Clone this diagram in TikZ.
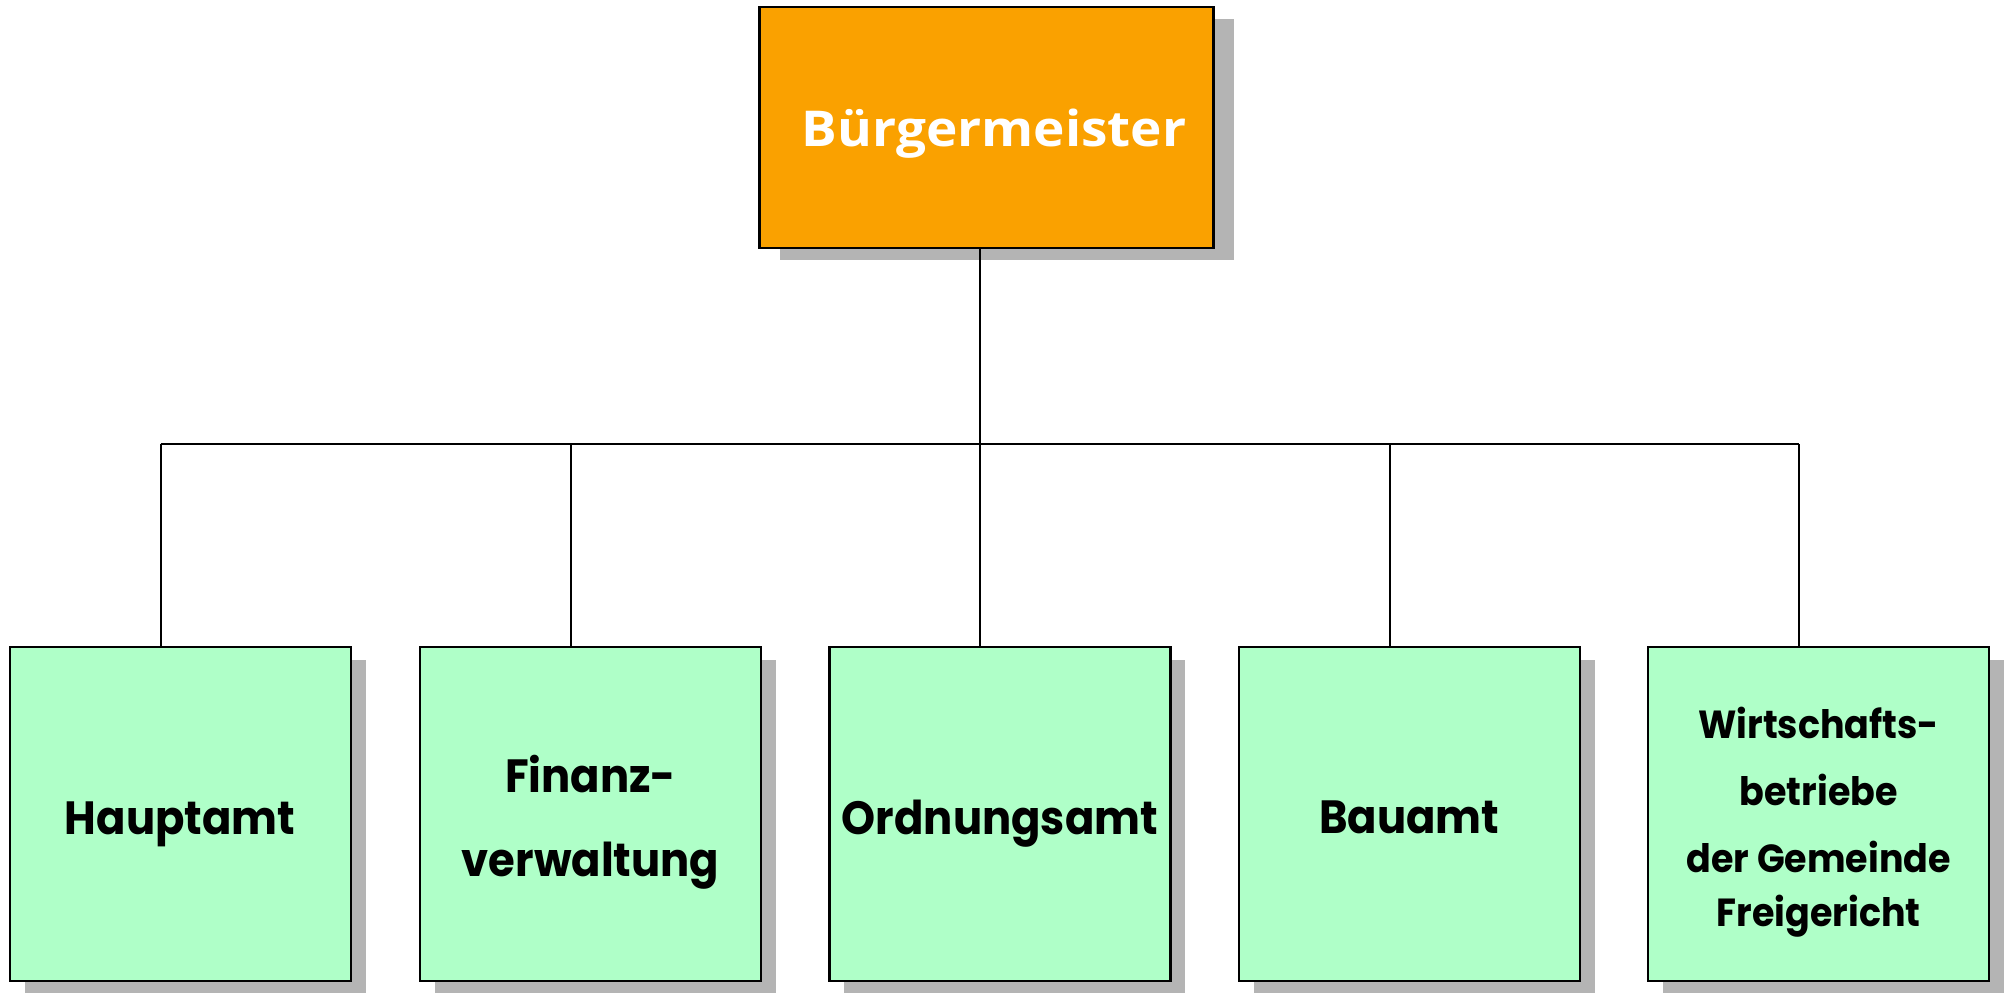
\documentclass[tikz,border=0pt]{standalone}
\usepackage{fontspec}
\newfontfamily\futfont{Poppins}[FakeStretch=0.93]
\newfontfamily\bossfont{Open Sans}[FakeStretch=1.075]
\usetikzlibrary{shadows}
\definecolor{bossorange}{RGB}{250,161,0}
\definecolor{deptgreen}{RGB}{175,255,200}
\definecolor{shadowgray}{RGB}{180,180,180}
\newcommand\mydeptfont{\futfont\bfseries\fontsize{23.3pt}{34pt}\selectfont\setlength{\lineskiplimit}{-100pt}\setlength{\lineskip}{0pt}}
\newcommand\mysmallfont{\futfont\bfseries\fontsize{19.6pt}{33.6pt}\selectfont\setlength{\lineskiplimit}{-100pt}\setlength{\lineskip}{0pt}}
\newcommand\topstrut[1]{\rule{0pt}{#1}}
\begin{document}
\begin{tikzpicture}[x=0.5pt,y=-0.5pt,
  bossbox/.style={draw=black,line width=1.1pt,fill=bossorange,inner sep=0pt,outer sep=0pt,
    minimum width=227pt,minimum height=120.5pt,text depth=0pt,
    drop shadow={shadow xshift=10pt,shadow yshift=-6.25pt,fill=shadowgray,opacity=1},
    text=white,font=\bossfont\bfseries\fontsize{24.7pt}{30pt}\selectfont},
  deptbox/.style={draw=black,line width=1.1pt,fill=deptgreen,inner sep=0pt,outer sep=0pt,
    minimum width=170.5pt,minimum height=167pt,align=center,text depth=0pt,
    drop shadow={shadow xshift=7.5pt,shadow yshift=-6.5pt,fill=shadowgray,opacity=1},
    font=\mydeptfont},
  smalltext/.style={font=\mysmallfont},
  conn/.style={draw=black,line width=1pt}]
\useasboundingbox (0,0) rectangle (2006,992);
\node[bossbox] (boss) at (986.5,127.2) {\hspace*{7.5pt}\topstrut{18.8pt}Bürgermeister};
\node[deptbox] (d1) at (180.1,814) {\topstrut{20pt}Hauptamt};
\node[deptbox] (d2) at (590.5,814) {\topstrut{20.7pt}Finanz-\\[8pt]verwaltung};
\node[deptbox] (d3) at (999.9,814) {\topstrut{20pt}Ordnungsamt};
\node[deptbox] (d4) at (1409.2,814) {\topstrut{19.5pt}Bauamt};
\node[deptbox,smalltext] (d5) at (1818.7,814) {\topstrut{18.2pt}Wirtschafts-\\betriebe\\der Gemeinde\\[-6.6pt]Freigericht};
\coordinate (bus) at (0,444.3);
\draw[conn] ([xshift=-3.25pt]boss.south) -- ([xshift=-3.25pt]boss.south |- bus);
\draw[conn] ([xshift=-9.75pt]d1.north |- bus) -- ([xshift=-9.75pt]d5.north |- bus);
\foreach \d in {d1,d2,d3,d4,d5}
  \draw[conn] ([xshift=-9.75pt]\d.north |- bus) -- ([xshift=-9.75pt]\d.north);
\end{tikzpicture}
\end{document}
